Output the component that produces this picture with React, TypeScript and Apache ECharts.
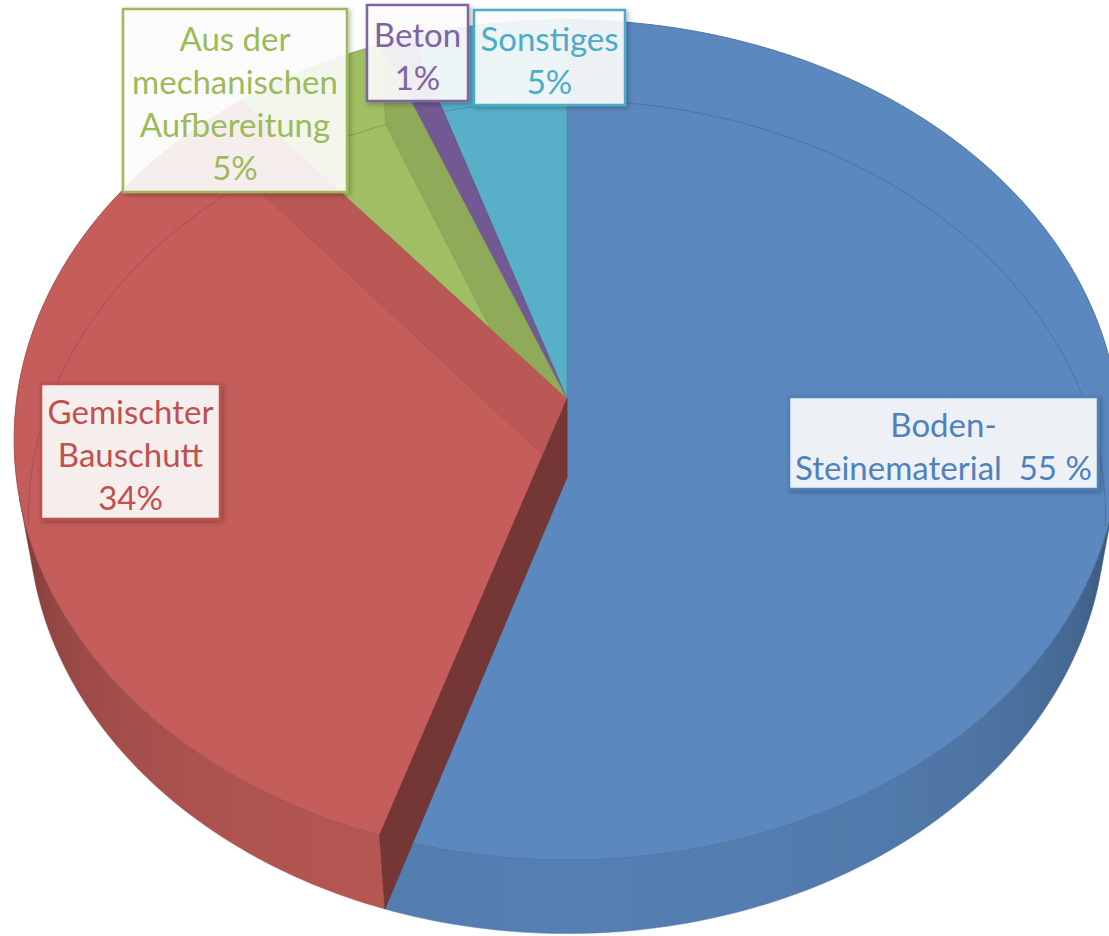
import React, { useEffect, useRef } from 'react';
import * as echarts from 'echarts';

// ---- data ----
const categories = [
  'Boden-\nSteinematerial',
  'Gemischter\nBauschutt',
  'Aus der\nmechanischen\nAufbereitung',
  'Beton',
  'Sonstiges',
];
const values = [55, 34, 5, 1, 5];

// ---- styling / layout ----
const sliceColors = ['#5b88bf', '#c55e5a', '#a0be63', '#8165a6', '#57afc8'];
const textColors = ['#4f81bd', '#c0504d', '#9bbb59', '#8064a2', '#4bacc6'];
const labelBoxes = [
  [789, 397, 309, 92],
  [41, 384, 179, 135],
  [123, 9, 224, 183],
  [367, 5, 101, 96],
  [474, 10, 151, 95],
];

const VIEW = { cx: 567, cy: 399, f: 3612, d: 6.63, phi: 49.8, h: 0.229, kx: 1.01 };
const SIN = Math.sin((VIEW.phi * Math.PI) / 180);
const COS = Math.cos((VIEW.phi * Math.PI) / 180);
const TAU = Math.PI * 2;

function proj(X: number, Y: number, Z: number): number[] {
  const depth = VIEW.d - Y * SIN - Z * COS;
  return [VIEW.cx + (VIEW.kx * VIEW.f * X) / depth, VIEW.cy - (VIEW.f * (Y * COS - Z * SIN)) / depth];
}
const rim = (t: number, Y: number) => proj(Math.sin(t), Y, -Math.cos(t));

function arcPts(a0: number, a1: number, Y: number) {
  const n = Math.max(2, Math.ceil((a1 - a0) / (Math.PI / 180)));
  const pts: number[][] = [];
  for (let k = 0; k <= n; k++) pts.push(rim(a0 + ((a1 - a0) * k) / n, Y));
  return pts;
}

function shade(hex: string, b: number) {
  const n = parseInt(hex.slice(1), 16);
  const r = Math.min(255, Math.round(((n >> 16) & 255) * b));
  const g = Math.min(255, Math.round(((n >> 8) & 255) * b));
  const bl = Math.min(255, Math.round((n & 255) * b));
  return `rgb(${r},${g},${bl})`;
}

const labelText = (i: number, v: number) =>
  i === 0 ? `${categories[i]}  ${v} %` : `${categories[i]}\n${v}%`;

const tMin = 1 / (VIEW.d * COS);
const wallMin = Math.acos(-tMin);
const wallMax = TAU - wallMin;
const wallBright = (t: number) => {
  const tf = Math.max(0, (-Math.cos(t) - tMin) / (1 - tMin));
  return 0.5 + 0.43 * Math.pow(tf, 0.45);
};

function wallGradient(col: string) {
  const xR = rim(wallMin, 0)[0];
  const xL = rim(wallMax, 0)[0];
  const stops: any[] = [];
  const n = 40;
  for (let k = n; k >= 0; k--) {
    const t = wallMin + ((wallMax - wallMin) * k) / n;
    const x = rim(t, 0)[0];
    stops.push({ offset: Math.min(1, Math.max(0, (x - xL) / (xR - xL))), color: shade(col, wallBright(t)) });
  }
  return { type: 'linear', x: xL, y: 0, x2: xR, y2: 0, global: true, colorStops: stops };
}

function renderItem(params: any, api: any) {
  const i = params.dataIndex;
  const v = api.value(0);
  const total = values.reduce((a, b) => a + b, 0);
  let before = 0;
  for (let k = 0; k < i; k++) before += values[k];
  const a0 = (before / total) * TAU;
  const a1 = ((before + v) / total) * TAU;
  const col = sliceColors[i];
  const h = VIEW.h;
  const children: any[] = [];

  // outer wall (front-facing part)
  const w0 = Math.max(a0, wallMin);
  const w1 = Math.min(a1, wallMax);
  if (w1 > w0) {
    const top = arcPts(w0, w1, 0);
    const bottom = arcPts(w0, w1, -h).reverse();
    const grad = wallGradient(col);
    children.push({
      type: 'polygon',
      z2: 10,
      shape: { points: [...top, ...bottom] },
      style: { fill: grad, stroke: grad, lineWidth: 0.5 },
    });
  }

  // top face
  children.push({
    type: 'polygon',
    z2: 20,
    shape: { points: [proj(0, 0, 0), ...arcPts(a0, a1, 0)] },
    style: { fill: col, stroke: shade(col, 0.86), lineWidth: 1 },
  });

  // bottom rim seen through the top (back part)
  const seg = (s0: number, s1: number) => {
    if (s1 <= s0) return;
    children.push({
      type: 'polyline',
      z2: 25,
      shape: { points: arcPts(s0, s1, -h) },
      style: { fill: null, stroke: 'rgba(30,40,70,0.22)', lineWidth: 1 },
    });
  };
  const backA = Math.acos(-COS / VIEW.d) + 0.02;
  seg(Math.max(a0, 0), Math.min(a1, backA));
  seg(Math.max(a0, TAU - backA), a1);

  // internal cut faces seen through the transparent body
  const isLeft = (idx: number) => {
    let bf = 0;
    for (let k = 0; k < idx; k++) bf += values[k];
    const mid = ((bf + values[idx] / 2) / total) * TAU;
    return mid > Math.PI;
  };
  const face = (a: number) => {
    let nx = Math.cos(a);
    let nz = Math.sin(a);
    if (nz < 0) { nx = -nx; nz = -nz; }
    const dot = Math.max(0, nx * -0.6 + nz * 0.8);
    const b = 0.59 + 0.36 * dot;
    const fill = shade(col, b);
    children.push({
      type: 'polygon',
      z2: 30 + (10 - i),
      shape: { points: [proj(0, 0, 0), rim(a, 0), rim(a, -h), proj(0, -h, 0)] },
      style: { fill, stroke: shade(col, b * 0.92), lineWidth: 0.6 },
    });
  };
  if (isLeft(i)) {
    if (a1 < TAU - 1e-3) face(a1);
    if (i === 0 || !isLeft(i - 1)) face(a0);
  }

  // label
  const [bx, by, bw, bh] = labelBoxes[i];
  children.push({
    type: 'rect',
    z2: 60,
    shape: { x: bx, y: by, width: bw, height: bh },
    style: {
      fill: 'rgba(255,255,255,0.88)',
      stroke: textColors[i],
      lineWidth: 2.5,
      shadowBlur: 5,
      shadowOffsetX: 2,
      shadowOffsetY: 2,
      shadowColor: 'rgba(0,0,0,0.3)',
    },
  });
  children.push({
    type: 'text',
    z2: 61,
    x: bx + bw / 2,
    y: by + bh / 2 + 2,
    style: {
      text: labelText(i, v),
      fill: textColors[i],
      fontFamily: 'Lato',
      fontSize: 33,
      lineHeight: 43,
      align: 'center',
      verticalAlign: 'middle',
    },
  });

  return { type: 'group', children };
}

export default function App() {
  const ref = useRef<HTMLDivElement>(null);
  useEffect(() => {
    const chart = echarts.init(ref.current!, undefined, { renderer: 'svg' });
    chart.setOption({
      animation: false,
      backgroundColor: '#ffffff',
      series: [
        {
          type: 'custom',
          coordinateSystem: 'none',
          silent: true,
          data: values,
          renderItem,
        },
      ],
    });
    return () => chart.dispose();
  }, []);
  return (
    <div
      ref={ref}
      style={{ position: 'fixed', left: 0, top: 0, width: 1109, height: 936 }}
    />
  );
}
